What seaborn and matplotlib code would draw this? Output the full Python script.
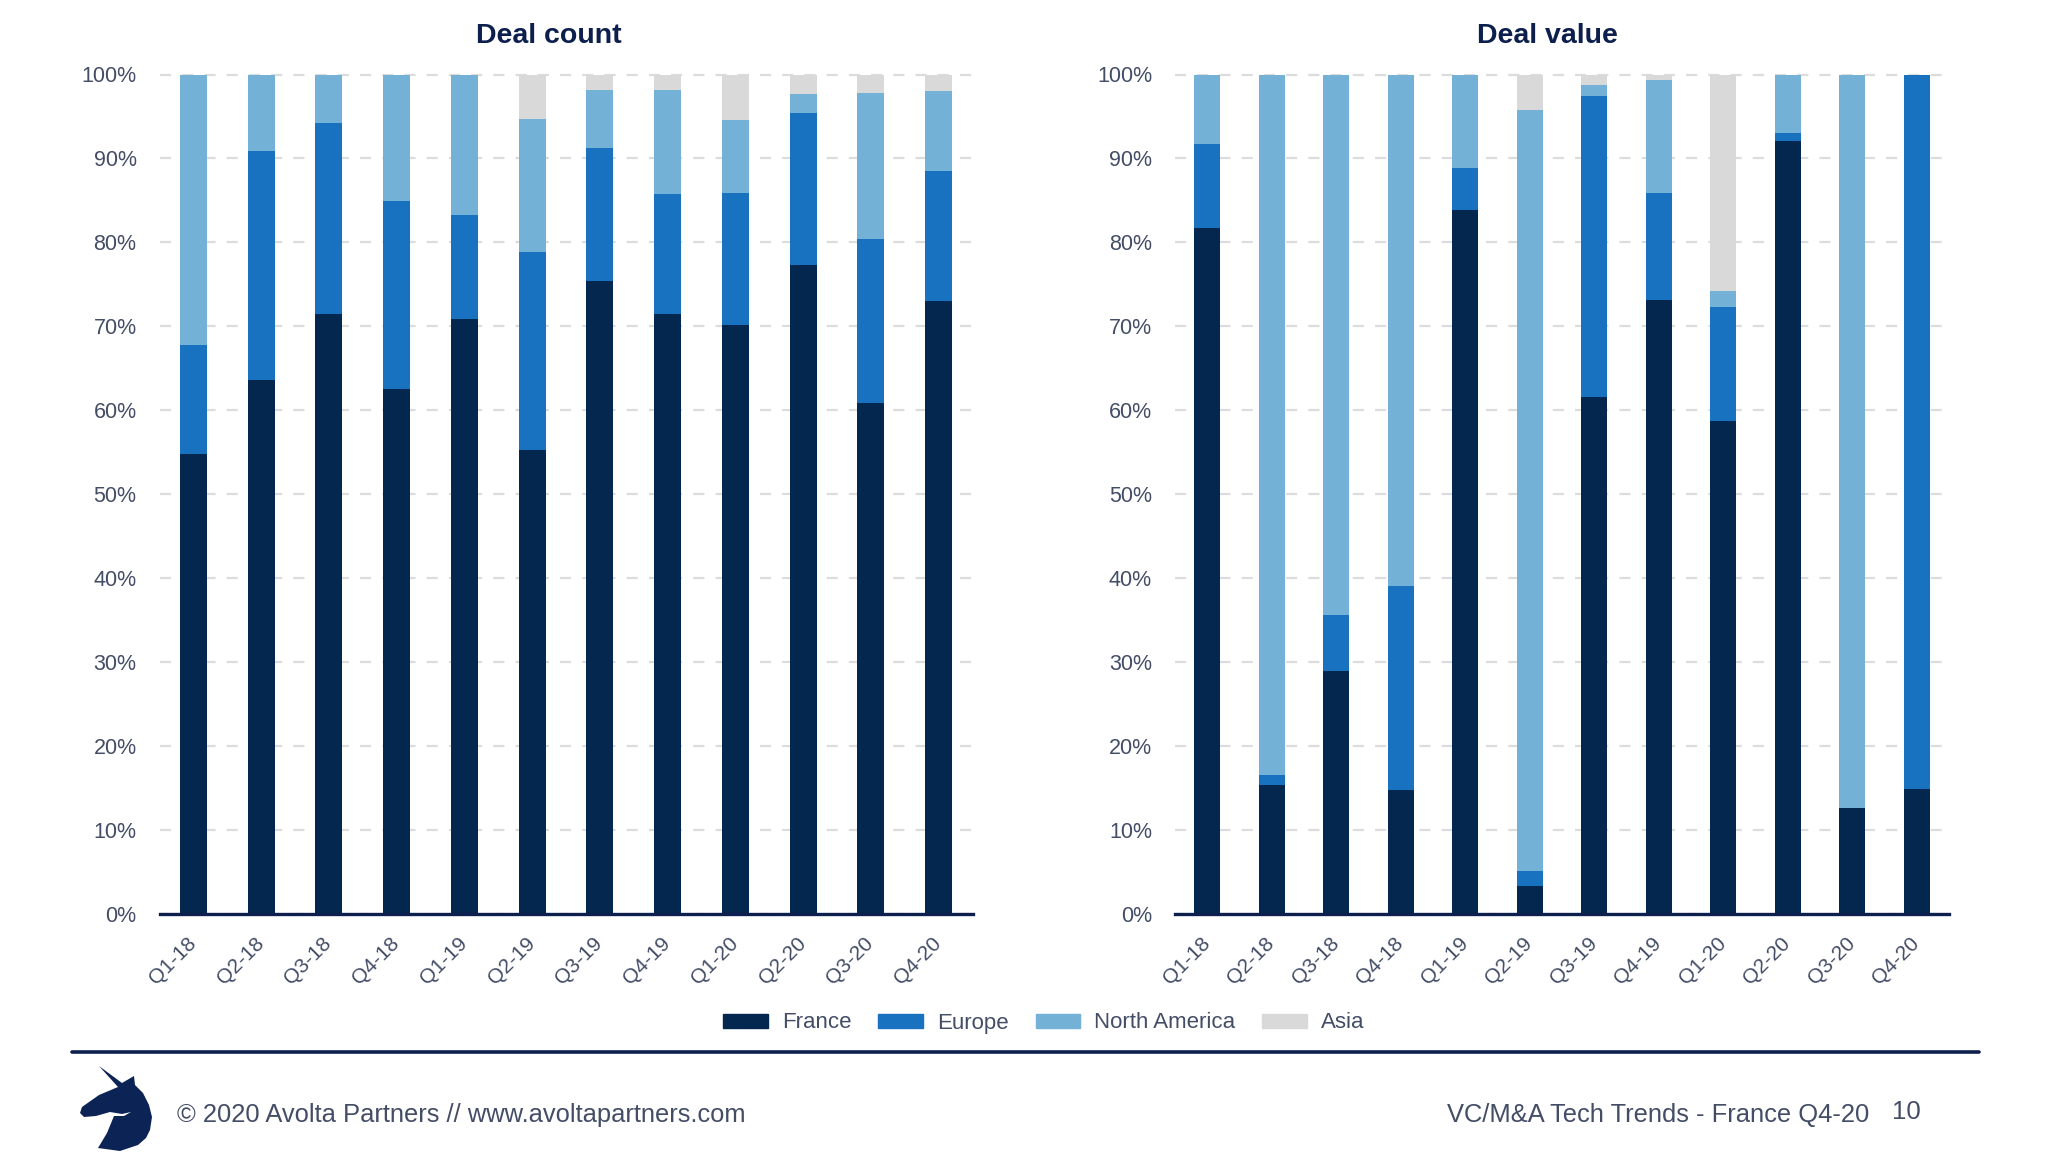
import numpy as np
import seaborn as sns
from matplotlib import pyplot as plt
from matplotlib.patches import Patch, Polygon
from matplotlib.lines import Line2D
from matplotlib.transforms import ScaledTranslation

quarters = ['Q1-18', 'Q2-18', 'Q3-18', 'Q4-18', 'Q1-19', 'Q2-19',
            'Q3-19', 'Q4-19', 'Q1-20', 'Q2-20', 'Q3-20', 'Q4-20']
regions = ['France', 'Europe', 'North America', 'Asia']

count_france = [54.8, 63.6, 71.4, 62.5, 70.8, 55.3, 75.4, 71.4, 70.2, 77.3, 60.9, 73.0]
count_europe = [12.9, 27.3, 22.8, 22.4, 12.5, 23.6, 15.8, 14.3, 15.7, 18.1, 19.5, 15.5]
count_namerica = [32.3, 9.1, 5.8, 15.1, 16.7, 15.8, 7.0, 12.5, 8.7, 2.3, 17.4, 9.5]
count_asia = [0, 0, 0, 0, 0, 5.3, 1.8, 1.8, 5.4, 2.3, 2.2, 2.0]

value_france = [81.7, 15.3, 28.9, 14.7, 83.9, 3.3, 61.6, 73.1, 58.7, 92.1, 12.6, 14.8]
value_europe = [10.0, 1.2, 6.7, 24.3, 5.0, 1.8, 35.8, 12.8, 13.6, 0.9, 0, 85.2]
value_namerica = [8.3, 83.5, 64.4, 61.0, 11.1, 90.7, 1.3, 13.4, 1.9, 7.0, 87.4, 0]
value_asia = [0, 0, 0, 0, 0, 4.2, 1.3, 0.7, 25.8, 0, 0, 0]

colors = ['#04274f', '#1872c0', '#73b2d6', '#dad9da']
navy = '#0c1f4d'
grey_text = '#434d66'

sns.set_theme(style='white')
plt.rcParams['font.family'] = ['Liberation Sans', 'DejaVu Sans']

W, H = 2050, 1160
fig = plt.figure(figsize=(W / 100, H / 100), dpi=100)


def make_axes(left, right, top=74.5, bottom=913.5):
    return fig.add_axes([left / W, 1 - bottom / H, (right - left) / W, (bottom - top) / H])


def stacked(ax, title, title_x, series):
    # back to front, each layer is the running total
    tops = np.cumsum(series, axis=0)
    for i in range(3, -1, -1):
        sns.barplot(x=quarters, y=tops[i], color=colors[i], saturation=1,
                    width=0.4, ax=ax, zorder=3, linewidth=0)
    ax.set_xlim(-0.5, 11.5)
    ax.set_ylim(0, 100)
    ax.set_yticks(np.arange(0, 101, 10))
    ax.set_yticklabels([f'{v}%' for v in range(0, 101, 10)], fontsize=15.5, color=grey_text)
    ax.yaxis.grid(True, color='#dcdcdc', lw=1.6, ls=(0, (5, 5)), clip_on=False)
    ax.set_axisbelow(True)
    ax.tick_params(axis='y', length=0, pad=16.5)
    ax.tick_params(axis='x', length=0, pad=14.5)
    shift = ScaledTranslation(-5 / 72, 0, fig.dpi_scale_trans)
    for lab in ax.get_xticklabels():
        lab.set_rotation(45)
        lab.set_ha('right')
        lab.set_rotation_mode('anchor')
        lab.set_fontsize(15)
        lab.set_color(grey_text)
        lab.set_transform(lab.get_transform() + shift)
    ax.set_xlabel('')
    ax.set_ylabel('')
    for s in ['top', 'left', 'right']:
        ax.spines[s].set_visible(False)
    ax.spines['bottom'].set_color(navy)
    ax.spines['bottom'].set_linewidth(2.4)
    ax.spines['bottom'].set_zorder(5)
    ax.set_title(title, x=title_x, fontsize=20.5, fontweight='bold', color=navy, pad=23)


ax1 = make_axes(159.5, 972.5)
stacked(ax1, 'Deal count', 0.479, [count_france, count_europe, count_namerica, count_asia])
ax2 = make_axes(1175, 1949)
stacked(ax2, 'Deal value', 0.481, [value_france, value_europe, value_namerica, value_asia])

handles = [Patch(color=c, label=r) for c, r in zip(colors, regions)]
fig.legend(handles=handles, loc='center', bbox_to_anchor=(1044 / W, 1 - 1023 / H), ncol=4,
           frameon=False, fontsize=16, handlelength=2.0, handleheight=0.6,
           handletextpad=0.65, columnspacing=1.2, labelcolor=grey_text)

# footer rule
fig.add_artist(Line2D([72 / W, 1979 / W], [1 - 1052 / H, 1 - 1052 / H], color=navy, lw=2.6))

# logo silhouette, pixel outline taken from the slide
logo = np.array([(99, 1066), (122, 1083), (134, 1076), (135, 1085), (143, 1093), (149, 1105),
                 (152, 1117), (150, 1130), (146, 1138), (138, 1145), (120, 1151), (98, 1148),
                 (107, 1133), (114, 1116), (124, 1116), (131, 1112), (122, 1114), (110, 1112),
                 (96, 1116), (84, 1117), (80, 1113), (82, 1107), (99, 1095), (118, 1087)],
                dtype=float)
logo[:, 0] /= W
logo[:, 1] = 1 - logo[:, 1] / H
fig.add_artist(Polygon(logo, closed=True, transform=fig.transFigure, color='#0c2356', lw=0))

fig.text(177 / W, 1 - 1115 / H, '© 2020 Avolta Partners // www.avoltapartners.com',
         fontsize=18.4, color=grey_text, va='center', ha='left')
fig.text(1869 / W, 1 - 1115 / H, 'VC/M&A Tech Trends - France Q4-20',
         fontsize=18.4, color=grey_text, va='center', ha='right')
fig.text(1921 / W, 1 - 1112 / H, '10', fontsize=18.5, color=grey_text, va='center', ha='right')

plt.savefig('out.png', dpi=100)
